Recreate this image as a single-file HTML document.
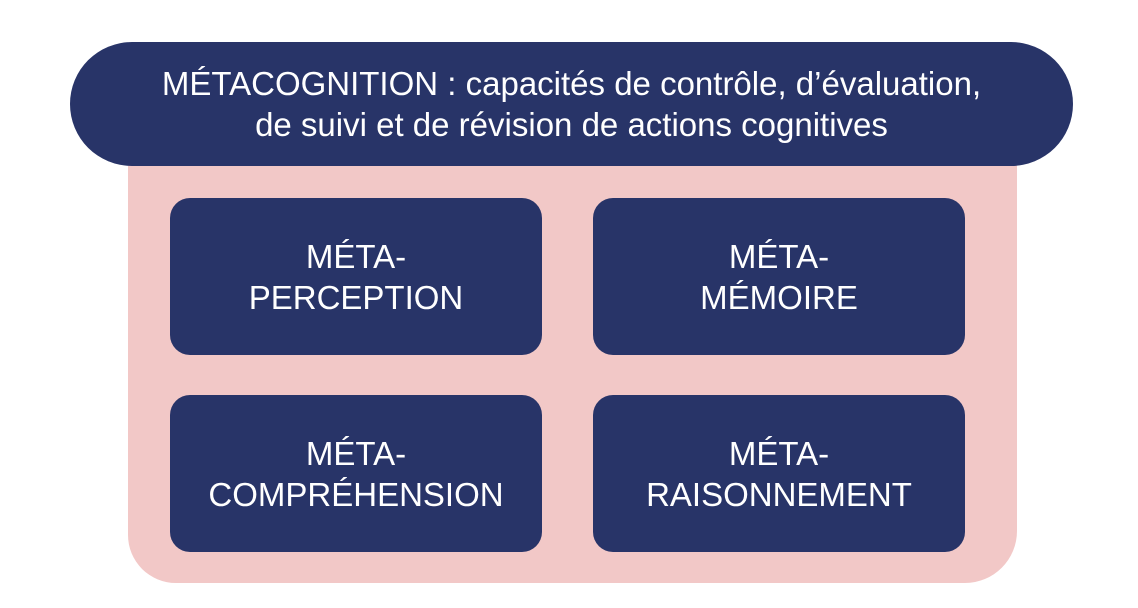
<!DOCTYPE html>
<html><head><meta charset="utf-8"><style>
body{margin:0;width:1138px;height:608px;background:#fff;position:relative;overflow:hidden;font-family:"Liberation Sans",sans-serif}
.pink{position:absolute;left:128px;top:140px;width:889px;height:443px;background:#f2c8c7;border-radius:0 0 52px 48px}
.pill{position:absolute;left:70px;top:42px;width:1003px;height:124px;background:#283468;border-radius:62px;color:#fff;font-size:33px;line-height:41px;text-align:center;display:flex;align-items:center;justify-content:center}
.b{position:absolute;width:372px;height:157px;background:#283468;border-radius:20px;color:#fff;font-size:33px;line-height:41px;text-align:center;display:flex;align-items:center;justify-content:center}
</style></head><body>
<div class="pink"></div>
<div class="pill"><div style="margin-top:0">MÉTACOGNITION : capacités de contrôle, d’évaluation,<br>de suivi et de révision de actions cognitives</div></div>
<div class="b" style="left:170px;top:198px"><div>MÉTA-<br>PERCEPTION</div></div>
<div class="b" style="left:593px;top:198px"><div>MÉTA-<br>MÉMOIRE</div></div>
<div class="b" style="left:170px;top:395px"><div>MÉTA-<br>COMPRÉHENSION</div></div>
<div class="b" style="left:593px;top:395px"><div>MÉTA-<br>RAISONNEMENT</div></div>
</body></html>
